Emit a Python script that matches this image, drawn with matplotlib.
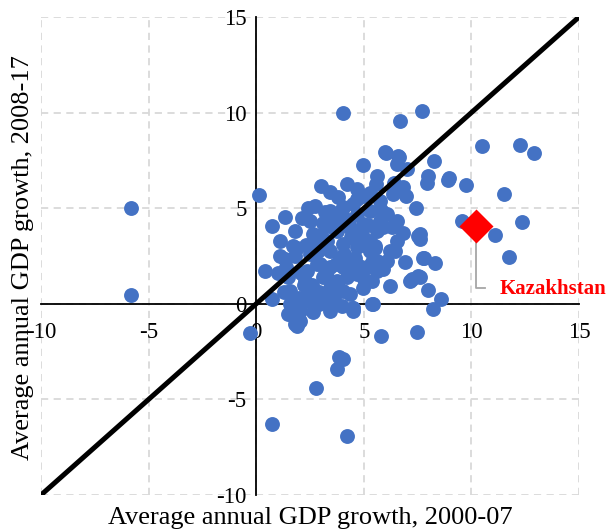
import matplotlib
matplotlib.use("Agg")
import matplotlib.pyplot as plt
import numpy as np

plt.rcParams['font.family'] = ['Liberation Serif', 'DejaVu Serif']
plt.rcParams['axes.unicode_minus'] = False

# Average annual GDP growth 2000-07 (x) vs 2008-17 (y), by country
x_vals = [
    -5.8, -5.8, 0.15, -0.3, 0.73, 2.8, 3.74, 3.85, 4.05, 4.2, 5.8, 7.45,
    4.02, 6.68, 7.69, 10.5, 12.25, 12.9, 9.75, 11.5, 9.55, 11.1, 12.35, 11.75,
    8.97, 8.9, 8.26, 7.98, 7.95, 6.02, 6.64, 6.53, 7.0, 4.95, 4.24, 3.0, 3.43,
    5.6, 5.57, 6.96, 7.42, 6.42, 7.6, 7.6, 7.8, 8.3, 7.6, 8.0, 8.57, 8.2,
    6.22, 7.15, 7.5, 5.37, 4.5, 3.43, 7.5, 6.53, 6.45, 7.75, 5.9, 7.22, 5.6,
    0.73, 1.35, 1.81, 1.11, 0.42, 0.73, 1.11, 1.35, 1.81, 1.49, 1.58, 1.58,
    1.5, 1.81, 2.04, 2.35, 2.5, 2.27, 2.35, 2.82, 2.5, 2.74, 2.12, 2.5, 2.66,
    3.2, 3.43, 4.05, 3.43, 3.74, 3.28, 4.05, 2.89, 3.43, 3.9, 2.97, 3.43, 4.05,
    3.12, 3.74, 4.2, 3.43, 4.05, 3.43, 4.5, 5.44, 5.99, 6.6, 6.84, 6.37, 4.98,
    5.75, 5.29, 6.06, 6.53, 5.75, 4.67, 4.98, 5.6, 4.98, 4.67, 5.29, 6.22,
    6.06, 5.14, 4.67, 5.6, 4.98, 4.36, 2.66, 1.89, 1.73, 2.04, 1.89, 4.5, 3.43,
    3.6, 4.3, 4.8, 5.2, 5.5, 5.0, 4.4, 3.9, 4.6, 5.3, 3.0, 2.2, 2.6, 3.6, 4.2,
    4.8, 5.4, 3.1, 2.3, 1.9, 2.0, 4.0, 4.7, 5.9, 3.3, 3.8, 2.9, 1.3, 1.0,
    3.0, 3.5, 4.3, 4.6, 5.1, 5.5, 4.1, 3.7, 4.4, 5.0, 3.2, 2.6, 2.1, 2.8,
    4.5, 5.8, 6.3, 6.8, 5.3, 4.7, 3.8, 2.4, 1.7, 1.4, 2.0, 2.9, 4.0, 6.9, 5.4,
]
y_vals = [
    5.0, 0.47, 5.7, -1.55, -6.3, -4.4, -3.4, -2.8, -2.9, -6.9, -1.7, -1.45,
    10.0, 9.55, 10.1, 8.25, 8.3, 7.87, 6.23, 5.74, 4.35, 3.6, 4.3, 2.46,
    6.6, 6.45, 7.45, 6.66, 6.3, 7.9, 7.7, 7.3, 7.05, 7.27, 6.27, 6.14, 5.83,
    6.66, 6.27, 5.65, 5.0, 6.3, 3.66, 3.4, 2.42, 2.16, 1.38, 0.72, 0.25, -0.28,
    0.94, 1.2, 1.47, 0.0, -0.2, 0.07, 3.56, 3.3, 2.77, 2.42, 1.8, 1.29, 2.25,
    4.08, 4.55, 3.82, 3.3, 1.73, 0.25, 2.5, 2.36, 2.5, 1.38, 0.68, 0.0,
    -0.54, -1.05, -0.37, 0.16, 0.68, 1.2, 1.73, 2.08, 2.6, 5.13, 4.49, 4.35, 3.65,
    4.78, 4.87, 5.04, 4.26, 3.82, 3.3, 3.12, 2.77, 2.77, 2.42, 2.08, 1.9, 1.9,
    1.38, 1.2, 1.38, 0.85, 0.68, 0.0, -0.2, 0.0, 7.92, 7.75, 6.09, 5.74, 5.65,
    5.39, 4.87, 4.7, 4.35, 4.35, 4.7, 4.17, 3.82, 3.47, 2.95, 2.77, 2.77,
    2.25, 1.9, 1.55, 1.73, 0.85, 0.5, -0.45, -0.63, -0.63, -0.9, -1.15, -0.37, -0.37,
    4.6, 4.0, 3.7, 4.1, 3.0, 3.1, 3.5, 4.5, 2.4, 3.3, 3.6, 1.0, 0.4, 0.3, 2.2,
    2.0, 1.2, 4.2, 3.1, 2.9, -0.1, 4.9, 5.5, 4.0, 1.4, 0.9, 0.6, 0.6, 1.6,
    3.5, 4.0, 4.4, 3.8, 3.2, 2.9, 2.6, 2.1, 1.8, 1.3, 0.5, 1.0, 1.6, 3.3,
    5.2, 4.9, 4.0, 3.7, 5.8, 6.0, 5.6, 5.0, 3.0, 1.9, 0.3, 0.0, -0.1, 2.2, 2.2,
]

kaz_x, kaz_y = 10.2, 4.05
kaz_label = "Kazakhstan"

ticks = [-10, -5, 0, 5, 10, 15]
tick_labels = ["-10", "-5", "0", "5", "10", "15"]

fig = plt.figure(figsize=(6.07, 5.29), dpi=100)
ax = fig.add_axes([41/607, 1-495/529, (579-41)/607, (495-17)/529])
ax.set_xlim(-10, 15)
ax.set_ylim(-10, 15)

ax.set_xticks(ticks)
ax.set_yticks(ticks)
ax.set_xticklabels(tick_labels)
ax.set_yticklabels(tick_labels)
ax.grid(True, color='#d9d9d9', linestyle=(0, (4, 3)), linewidth=1.3)
ax.set_axisbelow(True)
for gl in ax.get_xgridlines() + ax.get_ygridlines():
    gl.set_clip_on(False)

for s in ['top', 'right']:
    ax.spines[s].set_visible(False)
ax.spines['left'].set_position(('data', 0))
ax.spines['bottom'].set_position(('data', 0))
ax.spines['left'].set_linewidth(1.3)
ax.spines['bottom'].set_linewidth(1.3)
ax.spines['left'].set_zorder(1.5)
ax.spines['bottom'].set_zorder(1.5)
ax.tick_params(axis='both', length=0, labelsize=16.5)
ax.tick_params(axis='x', pad=13)
ax.tick_params(axis='y', pad=7)

ax.scatter(x_vals, y_vals, s=115, color='#4472C4', zorder=3, linewidths=0)
ax.plot([-10, 15], [-10, 15], color='black', linewidth=3.6, zorder=4,
        solid_capstyle='butt')

ax.plot([kaz_x, kaz_x, kaz_x + 0.45], [kaz_y, 0.85, 0.85], color='#a6a6a6',
        linewidth=1.3, zorder=5)
ax.scatter([kaz_x], [kaz_y], marker='D', s=300, color='#FF0000', zorder=6,
           linewidths=0)
ax.text(kaz_x + 1.1, 0.8, kaz_label, color='#FF0000', fontsize=15,
        fontweight='bold', va='center', ha='left', zorder=7)

fig.text(310/607, 1-518/529, "Average annual GDP growth, 2000-07", fontsize=19,
         ha='center', va='center')
fig.text(23/607, 1-258/529, "Average annual GDP growth, 2008-17", fontsize=19,
         ha='center', va='center', rotation=90)

fig.savefig("out.png", dpi=100)
